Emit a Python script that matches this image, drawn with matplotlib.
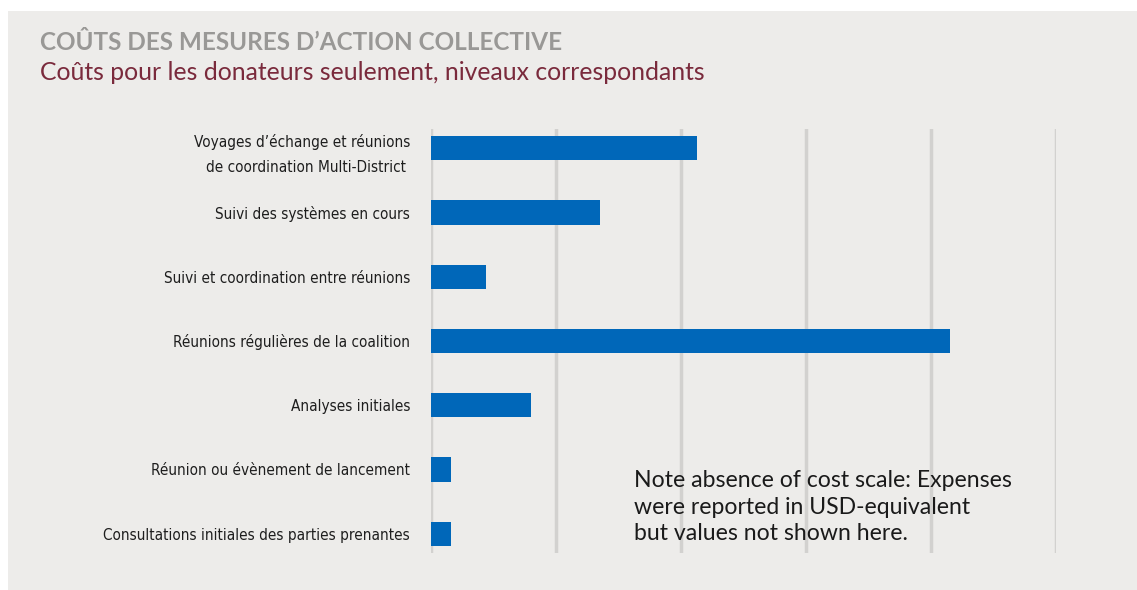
import matplotlib
matplotlib.use("Agg")
import matplotlib.pyplot as plt
from matplotlib import font_manager
from matplotlib.patches import Rectangle

categories = [
    "Voyages d\u2019échange et réunions\nde coordination Multi-District ",
    "Suivi des systèmes en cours",
    "Suivi et coordination entre réunions",
    "Réunions régulières de la coalition",
    "Analyses initiales",
    "Réunion ou évènement de lancement",
    "Consultations initiales des parties prenantes",
]
values = [2.13, 1.35, 0.44, 4.15, 0.80, 0.16, 0.16]
grid_ticks = [0, 1, 2, 3, 4, 5]

title = "COÛTS DES MESURES D\u2019ACTION COLLECTIVE"
subtitle = "Coûts pour les donateurs seulement, niveaux correspondants"
note = ("Note absence of cost scale: Expenses\n"
        "were reported in USD-equivalent\n"
        "but values not shown here.")

available = {f.name for f in font_manager.fontManager.ttflist}
main_font = "Lato" if "Lato" in available else "DejaVu Sans"

W, H = 1137, 590
fig = plt.figure(figsize=(W / 100, H / 100), dpi=100)
fig.patch.set_facecolor("white")
bg = "#edecea"
fig.patches.append(Rectangle((8 / W, 0), 1 - 8 / W, 1 - 11 / H, transform=fig.transFigure,
                             facecolor=bg, edgecolor="none", zorder=-10))

left, right = 431 / W, 1056 / W
top, bottom = 1 - 129 / H, 1 - 553 / H
ax = fig.add_axes([left, bottom, right - left, top - bottom])
ax.set_zorder(1)
ax.set_facecolor("none")

ypos = list(range(len(categories)))
ax.barh(ypos, values, height=0.375, color="#0067b9", zorder=3)
ax.set_xlim(0, 5)
ax.set_ylim(6.3, -0.3)
ax.set_xticks(grid_ticks)
ax.set_xticklabels([])
ax.xaxis.grid(True, color="#d2d1cf", linewidth=2.5, zorder=1)
ax.set_axisbelow(True)
ax.tick_params(axis="x", length=0)
ax.tick_params(axis="y", length=0, pad=15)
ax.set_yticks(ypos)
ax.set_yticklabels(categories, fontfamily="DejaVu Sans", fontstretch="condensed",
                   fontsize=11, color="#1e1e1e", linespacing=1.85)
for s in ax.spines.values():
    s.set_visible(False)

fig.text(40 / W, 1 - 42 / H, title, fontfamily=main_font, fontweight="bold",
         fontsize=17.5, color="#999896", va="center", ha="left")
fig.text(40 / W, 1 - 73 / H, subtitle, fontfamily=main_font,
         fontsize=17.8, color="#7a2a3c", va="center", ha="left")
fig.text(634 / W, 1 - 507 / H, note, fontfamily=main_font, fontsize=16.6,
         color="#1a1a1a", va="center", ha="left", linespacing=1.32)

fig.savefig("out.png", dpi=100, facecolor=fig.get_facecolor())
